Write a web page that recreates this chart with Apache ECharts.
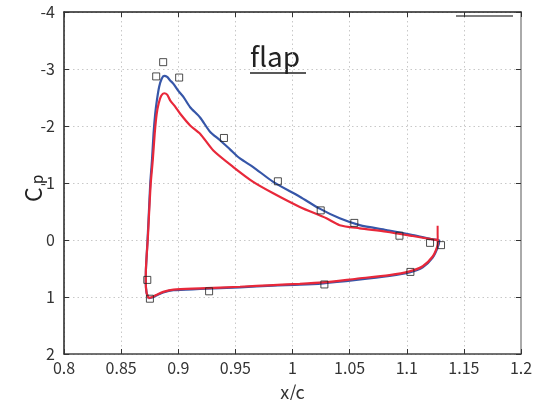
<!DOCTYPE html>
<html>
<head>
<meta charset="utf-8">
<script src="https://cdn.jsdelivr.net/npm/echarts@6/dist/echarts.min.js"></script>
<style>html,body{margin:0;padding:0;background:#fff;}#c{width:542px;height:400px;}</style>
</head>
<body>
<div id="c"></div>
<script>
// Blue curve (closed loop: upper surface LE->TE, then lower surface TE->LE)
var blueX = [0.8740,0.8723,0.8716,0.8717,0.8724,0.8731,0.8742,0.8755,0.8770,0.8784,0.8798,0.8813,0.8833,0.8855,0.8877,0.8903,0.8929,0.8958,0.8999,0.9045,0.9104,0.9191,0.9278,0.9366,0.9453,0.9540,0.9656,0.9831,1.0064,1.0238,1.0413,1.0588,1.0820,1.1052,1.1227,1.1285,
             1.1271,1.1227,1.1140,1.1024,1.0849,1.0558,1.0267,1.0064,0.9831,0.9540,0.9191,0.8958,0.8868,0.8813,0.8772,0.8740];
var blueCp = [1.02,0.93,0.76,0.52,0.26,0,-0.44,-0.99,-1.40,-1.87,-2.21,-2.45,-2.69,-2.83,-2.88,-2.86,-2.80,-2.74,-2.62,-2.51,-2.33,-2.15,-1.90,-1.75,-1.59,-1.43,-1.28,-1.02,-0.76,-0.55,-0.38,-0.26,-0.175,-0.087,-0.01,0.01,
              0.13,0.31,0.48,0.57,0.63,0.70,0.76,0.785,0.80,0.83,0.86,0.88,0.92,0.97,1.01,1.02];
// Red curve (closed loop)
var redX = [0.8740,0.8723,0.8716,0.8717,0.8724,0.8733,0.8744,0.8759,0.8777,0.8794,0.8811,0.8829,0.8851,0.8877,0.8903,0.8929,0.8973,0.9017,0.9104,0.9191,0.9307,0.9482,0.9656,0.9831,1.0064,1.0297,1.0413,1.0588,1.0820,1.1052,1.1227,1.1268,1.1272,
            1.1266,1.1227,1.1140,1.1024,1.0849,1.0558,1.0267,1.0064,0.9831,0.9540,0.9191,0.8958,0.8868,0.8813,0.8772,0.8740];
var redCp = [1.02,0.93,0.76,0.52,0.26,0,-0.44,-0.99,-1.40,-1.87,-2.21,-2.40,-2.53,-2.575,-2.55,-2.45,-2.34,-2.215,-2.01,-1.865,-1.57,-1.28,-1.02,-0.82,-0.58,-0.38,-0.26,-0.205,-0.145,-0.07,-0.01,0,0.03,
             0.12,0.29,0.46,0.55,0.615,0.68,0.745,0.77,0.79,0.82,0.85,0.87,0.91,0.96,1.00,1.02];
// Red trailing-edge spike
var redSpikeX = [1.1270, 1.1271];
var redSpikeCp = [-0.25, 0.04];
// Experimental points
var expX = [0.8807,0.8868,0.9008,0.9400,0.9872,1.0247,1.0541,1.0936,1.1204,1.1300,0.8729,0.8752,0.9270,1.0279,1.1032];
var expCp = [-2.87,-3.12,-2.85,-1.79,-1.03,-0.52,-0.30,-0.075,0.05,0.09,0.70,1.03,0.90,0.78,0.56];

function pairs(xs, ys){ return xs.map(function(x,i){ return [x, ys[i]]; }); }

var FONT = '"Noto Sans CJK JP", "Noto Sans", sans-serif';
var chart = echarts.init(document.getElementById('c'), null, {renderer:'canvas'});
var gridLine = {show:true, lineStyle:{color:'#c8c8c8', type:[1.5,3], width:1}};
var RED = '#e8283a';
chart.setOption({
  animation:false,
  backgroundColor:'#fff',
  grid:{left:64, right:21, top:12, bottom:46, containLabel:false, outerBoundsMode:'none'},
  xAxis:[{
    type:'value', min:0.8, max:1.2, interval:0.05, position:'bottom',
    axisLine:{show:true, onZero:false, lineStyle:{color:'#444', width:1.5}},
    axisTick:{show:true, inside:true, length:5, lineStyle:{color:'#333'}},
    axisLabel:{fontSize:16, color:'#333', fontFamily:FONT, margin:6},
    splitLine:gridLine,
    name:'x/c', nameLocation:'middle', nameGap:29,
    nameTextStyle:{fontSize:18, color:'#333', fontFamily:FONT}
  },{
    type:'value', min:0.8, max:1.2, interval:0.05, position:'top',
    axisLine:{show:true, onZero:false, lineStyle:{color:'#222', width:1.5}},
    axisTick:{show:true, inside:true, length:5, lineStyle:{color:'#333'}},
    axisLabel:{show:false}, splitLine:{show:false}
  }],
  yAxis:[{
    type:'value', min:-4, max:2, interval:1, inverse:true, position:'left',
    axisLine:{show:true, onZero:false, lineStyle:{color:'#222', width:1.5}},
    axisTick:{show:true, inside:true, length:5, lineStyle:{color:'#333'}},
    axisLabel:{fontSize:16, color:'#333', fontFamily:FONT, margin:9},
    splitLine:gridLine
  },{
    type:'value', min:-4, max:2, interval:1, inverse:true, position:'right',
    axisLine:{show:true, onZero:false, lineStyle:{color:'#aaa', width:2}},
    axisTick:{show:true, inside:true, length:5, lineStyle:{color:'#333'}},
    axisLabel:{show:false}, splitLine:{show:false}
  }],
  graphic:[
    {type:'text', left:250, top:42, style:{text:'flap', fontSize:28, fill:'#222', fontFamily:FONT}},
    {type:'line', shape:{x1:250, y1:73, x2:306, y2:73}, style:{stroke:'#222', lineWidth:1.5}},
    {type:'line', shape:{x1:456, y1:16, x2:513, y2:16}, style:{stroke:'#555', lineWidth:1.5}},
    {type:'text', x:33, y:202, rotation:Math.PI/2, style:{text:'C', fontSize:23, fill:'#222', fontFamily:FONT, textAlign:'left', textVerticalAlign:'middle'}},
    {type:'text', x:37, y:184, rotation:Math.PI/2, style:{text:'p', fontSize:15, fill:'#222', fontFamily:FONT, textAlign:'left', textVerticalAlign:'middle'}}
  ],
  series:[
    {type:'line', name:'blue', data:pairs(blueX, blueCp), showSymbol:false, symbol:'none', smooth:0.25,
     lineStyle:{color:'#3656a8', width:2.2}, z:2},
    {type:'line', name:'red', data:pairs(redX, redCp), showSymbol:false, symbol:'none', smooth:0.25,
     lineStyle:{color:RED, width:2.2}, z:3},
    {type:'line', name:'redSpike', data:pairs(redSpikeX, redSpikeCp), showSymbol:false, symbol:'none',
     lineStyle:{color:RED, width:2}, z:3},
    {type:'scatter', name:'exp', data:pairs(expX, expCp), symbol:'rect', symbolSize:7,
     itemStyle:{color:'rgba(255,255,255,0)', borderColor:'#222', borderWidth:1}, z:4}
  ]
});
</script>
</body>
</html>
